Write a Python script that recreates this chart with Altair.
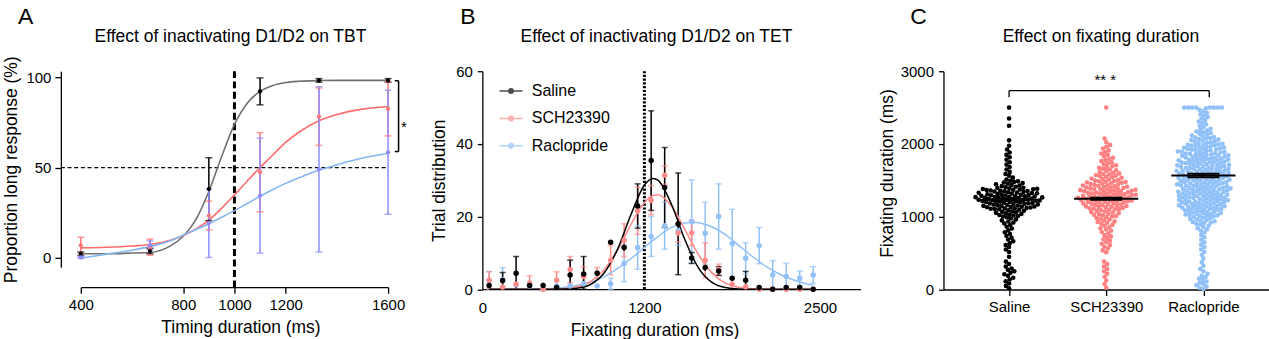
import altair as alt
import pandas as pd

FONT = "Liberation Sans"
GROUPS = ["Saline", "SCH23390", "Raclopride"]

# ---------------- Panel A data ----------------
a_x = [400, 670, 900, 1100, 1330, 1600]
a_mean = {
    "Saline": [2.0, 3.5, 38.0, 92.4, 98.5, 98.5],
    "SCH23390": [6.7, 5.7, 23.3, 47.4, 78.3, 82.6],
    "Raclopride": [0.0, 6.7, 19.0, 34.4, 49.0, 58.5],
}
a_err = {
    "Saline": [1.0, 1.5, 17.5, 7.5, 1.0, 1.0],
    "SCH23390": [4.5, 4.5, 8.0, 22.0, 16.0, 15.0],
    "Raclopride": [0.6, 2.5, 19.0, 32.0, 46.0, 34.5],
}
a_curve_x = [400, 500, 600, 670, 750, 800, 850, 900, 950, 1000, 1050, 1100,
             1150, 1200, 1250, 1330, 1400, 1500, 1600]
a_curve = {
    "Saline": [2.0, 2.0, 2.4, 2.7, 6.4, 11.8, 21.2, 36.7, 56.1, 74.0, 85.8, 92.4,
               95.7, 97.3, 98.0, 98.4, 98.5, 98.5, 98.5],
    "SCH23390": [5.3, 5.6, 6.3, 7.2, 9.5, 12.2, 15.8, 20.8, 27.3, 34.8, 42.5, 50.0,
                 57.0, 64.0, 69.5, 76.0, 79.5, 82.5, 84.0],
    "Raclopride": [-0.5, 1.8, 4.0, 6.0, 9.2, 12.4, 15.5, 18.7, 22.3, 26.0, 30.0, 34.0,
                   37.8, 41.2, 44.2, 48.5, 51.5, 55.3, 58.0],
}
a_ticks = [400, 800, 1000, 1200, 1600]

# ---------------- Panel B data ----------------
b_x = [50, 150, 250, 350, 450, 550, 650, 750, 850, 950, 1050, 1150, 1250,
       1350, 1450, 1550, 1650, 1750, 1850, 1950, 2050, 2150, 2250, 2350, 2450]
b_mean = {
    "Saline": [1.0, 2.4, 4.4, 1.0, 1.0, 0.5, 3.9, 4.2, 4.4, 12.9, 11.5, 22.9, 35.4,
               28.0, 18.0, 8.6, 6.0, 5.0, 3.0, 2.5, 0.5, 0.0, 0.5, 0.5, 0.0],
    "SCH23390": [2.5, 0.6, 1.4, 1.7, 0.0, 2.5, 5.4, 3.5, 4.5, 8.0, 13.5, 21.6, 24.5,
                 31.4, 15.5, 15.5, 8.0, 5.4, 1.4, 0.7, 0.0, 0.0, 0.0, 0.0, 0.0],
    "Raclopride": [2.3, 2.7, 1.2, 0.9, 0.0, 0.9, 0.9, 1.5, 0.9, 1.5, 7.1, 11.5, 14.5,
                   17.5, 16.1, 18.6, 15.4, 20.0, 12.5, 8.5, 12.0, 3.9, 3.5, 3.0, 3.9],
}
b_err = {
    "Saline": [0.8, 2.2, 4.6, 0.5, 0.8, 0.3, 4.1, 4.8, 0.6, 0.5, 1.0, 6.1, 13.7,
               11.0, 14.0, 1.5, 1.0, 1.2, 0.4, 2.4, 0.3, 0.0, 0.3, 0.3, 0.0],
    "SCH23390": [2.3, 0.5, 1.0, 2.0, 0.3, 2.3, 3.6, 2.7, 1.5, 4.0, 4.5, 6.5, 4.0,
                 2.5, 2.5, 3.5, 4.8, 1.5, 1.0, 0.7, 0.0, 0.0, 0.0, 0.0, 0.0],
    "Raclopride": [2.6, 3.2, 0.6, 0.5, 0.3, 0.5, 0.5, 0.8, 0.5, 1.5, 5.0, 6.0, 5.5,
                   6.5, 4.0, 11.5, 8.5, 9.0, 9.5, 4.3, 5.0, 4.0, 3.6, 2.0, 2.3],
}
b_curve_x = [50, 200, 400, 500, 600, 700, 800, 900, 1000, 1100, 1200, 1265, 1300,
             1400, 1500, 1560, 1600, 1700, 1800, 1900, 2000, 2100, 2200, 2300, 2400, 2450]
b_curve = {
    "Saline": [0.0, 0.0, 0.0, 0.0, 0.05, 0.29, 1.3, 4.4, 10.9, 20.5, 28.7, 30.5, 30.0,
               23.4, 13.6, 8.6, 5.9, 1.9, 0.47, 0.08, 0.01, 0.0, 0.0, 0.0, 0.0, 0.0],
    "SCH23390": [0.0, 0.0, 0.0, 0.04, 0.18, 0.69, 2.1, 5.3, 10.8, 17.8, 23.9, 25.8, 26.0,
                 22.9, 16.4, 12.2, 9.5, 4.5, 1.7, 0.54, 0.13, 0.03, 0.0, 0.0, 0.0, 0.0],
    "Raclopride": [0.0, 0.0, 0.05, 0.2, 0.45, 1.0, 2.0, 3.4, 5.7, 8.4, 11.5, 13.5, 14.5,
                   17.0, 18.2, 18.4, 18.3, 17.2, 15.0, 12.0, 9.0, 6.3, 4.2, 2.6, 1.5, 1.1],
}
b_ticks_x = [0, 1200, 2500]
b_ticks_y = [0, 20, 40, 60]

# ---------------- Panel C data ----------------
c_bin_lo = [0, 100, 200, 300, 400, 500, 600, 700, 800, 900, 1000, 1100, 1200,
            1300, 1400, 1500, 1600, 1700, 1800, 1900, 2000, 2100, 2200, 2300, 2400]
c_counts = {
    "Saline": [3, 4, 5, 3, 1, 3, 4, 4, 4, 7, 14, 25, 31, 25, 12, 4, 3, 3, 3, 2, 1, 0, 1, 1, 0],
    "SCH23390": [2, 2, 3, 3, 0, 4, 5, 5, 6, 9, 13, 20, 26, 25, 19, 13, 9, 7, 5, 4, 2, 0, 0, 0, 0],
    "Raclopride": [6, 5, 3, 2, 2, 3, 3, 3, 6, 12, 18, 22, 24, 24, 24, 24, 24, 24, 22, 20, 14, 9, 5, 5, 5],
}
c_cap_value = 2500
c_cap_counts = {"Saline": 1, "SCH23390": 1, "Raclopride": 8}
c_mean = [1235, 1246, 1568]
c_sem = [14, 14, 24]
c_ticks_y = [0, 1000, 2000, 3000]

# ---------------- layout constants ----------------
A_W, A_H = 308, 196.5
B_W, B_H = 379, 218.5
C_W, C_H = 326.3, 218.8
C_PAD = 0.675
BLACK = "#000000"

A_COL = ["#000000", "#ff7474", "#8c8cff"]
A_CURVE = ["#707070", "#ff6b6b", "#86b6f2"]
B_COL = ["#000000", "#ff8c8c", "#92c1f7"]
C_COL = ["#000000", "#ff8080", "#90c0f8"]

SYM = "M-1,0L1,0M0.2,0A0.2,0.2,0,1,1,-0.2,0A0.2,0.2,0,1,1,0.2,0"


def label_text(letter, title, lx, tx):
    df = pd.DataFrame({"t": [letter], "h": [title]})
    letter_mark = alt.Chart(df).mark_text(
        align="left", baseline="alphabetic", fontSize=23, font=FONT, color=BLACK
    ).encode(x=alt.value(lx), y=alt.value(-47.2), text="t:N")
    title_mark = alt.Chart(df).mark_text(
        align="center", baseline="alphabetic", fontSize=17.5, font=FONT, color=BLACK
    ).encode(x=alt.value(tx), y=alt.value(-29), text="h:N")
    return letter_mark + title_mark


def legend(lx, ly, loff, rpad):
    return alt.Legend(orient="none", legendX=lx, legendY=ly, title=None,
                      symbolType=SYM, symbolSize=529, symbolStrokeWidth=1.5,
                      labelFontSize=16, labelFont=FONT, labelColor=BLACK,
                      labelOffset=loff, rowPadding=rpad, padding=0)


# ================= Panel A =================
pts, caps, curves = [], [], []
for g in GROUPS:
    for x, m, e in zip(a_x, a_mean[g], a_err[g]):
        pts.append({"gA": g, "x": x, "y": m, "lo": m - e, "hi": m + e})
        caps.append({"gA": g, "x": x, "y": m - e})
        caps.append({"gA": g, "x": x, "y": m + e})
    for x, v in zip(a_curve_x, a_curve[g]):
        curves.append({"gA": g, "x": x, "y": v})
dfa, dfa_caps, dfa_curve = pd.DataFrame(pts), pd.DataFrame(caps), pd.DataFrame(curves)

axs = alt.Scale(domain=[400, 1600], nice=False, zero=False)
ays = alt.Scale(domain=[-5.5, 103.6], nice=False, zero=False)
acol = alt.Scale(domain=GROUPS, range=A_COL)
acur = alt.Scale(domain=GROUPS, range=A_CURVE)
ax_x = alt.Axis(values=a_ticks, format="d", title="Timing duration (ms)", offset=20, titleX=160,
                labelFlush=False, labelOverlap=False, tickSize=6, labelPadding=4,
                titlePadding=6, grid=False)
ax_y = alt.Axis(values=[0, 50, 100], format="d", title="Proportion long response (%)", offset=20,
                tickSize=6, labelPadding=4, titlePadding=5, grid=False)
a_legend = legend(-1.3, 0, 10, 7)

a_hline = alt.Chart(pd.DataFrame({"x": [322], "x2": [1600], "y": [50]})).mark_rule(
    color=BLACK, strokeWidth=1.2, strokeDash=[4, 2.7]
).encode(x=alt.X("x:Q", scale=axs, axis=ax_x), x2="x2:Q", y=alt.Y("y:Q", scale=ays, axis=ax_y))
a_vline = alt.Chart(pd.DataFrame({"x": [1000], "y": [-16.7], "y2": [103.6]})).mark_rule(
    color=BLACK, strokeWidth=3, strokeDash=[7, 3.5]
).encode(x="x:Q", y="y:Q", y2="y2:Q")
a_line = alt.Chart(dfa_curve).mark_line(strokeWidth=1.6, interpolate="monotone").encode(
    x="x:Q", y="y:Q", stroke=alt.Stroke("gA:N", scale=acur, legend=None)
)
a_bars = alt.Chart(dfa).mark_rule(strokeWidth=1.5).encode(
    x="x:Q", y="lo:Q", y2="hi:Q", color=alt.Color("gA:N", scale=acol, legend=a_legend)
)
a_caps = alt.Chart(dfa_caps).mark_tick(orient="horizontal", size=7, thickness=1.5).encode(
    x="x:Q", y="y:Q", color=alt.Color("gA:N", scale=acol, legend=a_legend)
)
a_pts = alt.Chart(dfa).mark_circle(size=18, opacity=1).encode(
    x="x:Q", y="y:Q", color=alt.Color("gA:N", scale=acol, legend=a_legend)
)
a_br = pd.DataFrame({"x": [1641, 1626, 1626], "x2": [1641, 1641, 1641],
                     "y": [58.9, 98.3, 58.9], "y2": [98.3, 98.3, 58.9]})
a_brk = alt.Chart(a_br).mark_rule(color=BLACK, strokeWidth=1.5).encode(
    x="x:Q", x2="x2:Q", y="y:Q", y2="y2:Q")
a_star = alt.Chart(pd.DataFrame({"x": [1662], "y": [70], "t": ["*"]})).mark_text(
    fontSize=15, font=FONT, color=BLACK, baseline="alphabetic").encode(x="x:Q", y="y:Q", text="t:N")

panelA = alt.layer(
    a_hline, a_vline, a_line, a_bars, a_caps, a_pts, a_brk, a_star,
    label_text("A", "Effect of inactivating D1/D2 on TBT", -63, 150)
).properties(width=A_W, height=A_H)

# ================= Panel B =================
pts, caps, curves = [], [], []
for g in reversed(GROUPS):
    for x, m, e in zip(b_x, b_mean[g], b_err[g]):
        pts.append({"gB": g, "x": x, "y": m, "lo": max(m - e, 0), "hi": m + e})
        if e >= 1.2:
            caps.append({"gB": g, "x": x, "y": max(m - e, 0)})
            caps.append({"gB": g, "x": x, "y": m + e})
    for x, v in zip(b_curve_x, b_curve[g]):
        curves.append({"gB": g, "x": x, "y": v})
dfb, dfb_caps, dfb_curve = pd.DataFrame(pts), pd.DataFrame(caps), pd.DataFrame(curves)

bxs = alt.Scale(domain=[0, 2800], nice=False, zero=False)
bys = alt.Scale(domain=[0, 60], nice=False)
bcol = alt.Scale(domain=GROUPS, range=B_COL)
bx_x = alt.Axis(values=b_ticks_x, format="d", title="Fixating duration (ms)", titleX=172.5,
                ticks=False, tickSize=0, labelPadding=11, labelFlush=False, labelOverlap=False,
                titlePadding=6, grid=False)
bx_y = alt.Axis(values=b_ticks_y, format="d", title="Trial distribution", tickSize=5,
                labelPadding=5, titlePadding=7, grid=False)
b_legend = legend(16.2, 7.3, 8.3, 6.5)

b_vline = alt.Chart(pd.DataFrame({"x": [1200], "y": [0], "y2": [60]})).mark_rule(
    color=BLACK, strokeWidth=3, strokeDash=[2.2, 1.6]
).encode(x=alt.X("x:Q", scale=bxs, axis=bx_x), y=alt.Y("y:Q", scale=bys, axis=bx_y), y2="y2:Q")
b_line = alt.Chart(dfb_curve).mark_line(strokeWidth=1.5, interpolate="monotone").encode(
    x="x:Q", y="y:Q", color=alt.Color("gB:N", scale=bcol, legend=b_legend)
)
b_bars = alt.Chart(dfb).mark_rule(strokeWidth=1.5).encode(
    x="x:Q", y="lo:Q", y2="hi:Q", color=alt.Color("gB:N", scale=bcol, legend=b_legend)
)
b_caps = alt.Chart(dfb_caps).mark_tick(orient="horizontal", size=6, thickness=1.5).encode(
    x="x:Q", y="y:Q", color=alt.Color("gB:N", scale=bcol, legend=b_legend)
)
b_pts = alt.Chart(dfb).mark_circle(size=30, opacity=1).encode(
    x="x:Q", y="y:Q", color=alt.Color("gB:N", scale=bcol, legend=b_legend)
)
panelB = alt.layer(
    b_vline, b_bars, b_caps, b_line, b_pts,
    label_text("B", "Effect of inactivating D1/D2 on TET", -22.2, 174.5)
).properties(width=B_W, height=B_H)

# ================= Panel C =================
px_per_ms = C_H / 3000.0
px_per_cat = C_W / (2 + 2 * C_PAD)
D = 4.0


def swarm(values):
    placed, out = [], []
    for v in values:
        y = v * px_per_ms
        near = [(py, pxx) for py, pxx in placed if abs(py - y) < D]
        cands = [0.0]
        for py, pxx in near:
            dx = (D * D - (py - y) ** 2) ** 0.5
            cands += [pxx + dx, pxx - dx]
        cands.sort(key=lambda c: (abs(c), c))
        chosen = cands[-1]
        for c in cands:
            if all((c - pxx) ** 2 + (y - py) ** 2 >= D * D - 1e-6 for py, pxx in near):
                chosen = c
                break
        placed.append((y, chosen))
        out.append(chosen)
    return out


crow = []
for gi, g in enumerate(GROUPS):
    vals = []
    for lo, n in zip(c_bin_lo, c_counts[g]):
        vals += [lo + (k + 0.5) * 100.0 / n for k in range(n)]
    vals += [c_cap_value] * c_cap_counts[g]
    vals.sort()
    offs = swarm(vals)
    for v, o in zip(vals, offs):
        crow.append({"gC": g, "xp": gi + o / px_per_cat, "v": v})
dfc = pd.DataFrame(crow)

cxs = alt.Scale(domain=[-C_PAD, 2 + C_PAD], nice=False, zero=False)
cys = alt.Scale(domain=[0, 3000], nice=False)
ccol = alt.Scale(domain=GROUPS, range=C_COL)
lab_expr = "datum.value == 0 ? '%s' : (datum.value == 1 ? '%s' : '%s')" % tuple(GROUPS)
cx_x = alt.Axis(values=[0, 1, 2], labelExpr=lab_expr, title=None, tickSize=6, labelPadding=4,
                labelFlush=False, labelOverlap=False, grid=False)
cx_y = alt.Axis(values=c_ticks_y, format="d", title="Fixating duration (ms)", tickSize=5,
                labelPadding=5, titlePadding=4, titleY=102, grid=False)

c_pts = alt.Chart(dfc).mark_circle(size=21, opacity=1).encode(
    x=alt.X("xp:Q", scale=cxs, axis=cx_x), y=alt.Y("v:Q", scale=cys, axis=cx_y),
    color=alt.Color("gC:N", scale=ccol, legend=None)
)
mrow, srow, caprow = [], [], []
for gi, g in enumerate(GROUPS):
    mrow.append({"x": gi - 0.33, "x2": gi + 0.33, "y": c_mean[gi]})
    srow.append({"x": gi, "lo": c_mean[gi] - c_sem[gi], "hi": c_mean[gi] + c_sem[gi]})
    for yv in (c_mean[gi] - c_sem[gi], c_mean[gi] + c_sem[gi]):
        caprow.append({"x": gi - 0.165, "x2": gi + 0.165, "y": yv})
c_mean_l = alt.Chart(pd.DataFrame(mrow)).mark_rule(color=BLACK, strokeWidth=2).encode(
    x="x:Q", x2="x2:Q", y="y:Q")
c_sem_l = alt.Chart(pd.DataFrame(srow)).mark_rule(color=BLACK, strokeWidth=2).encode(
    x="x:Q", y="lo:Q", y2="hi:Q")
c_cap_l = alt.Chart(pd.DataFrame(caprow)).mark_rule(color=BLACK, strokeWidth=2).encode(
    x="x:Q", x2="x2:Q", y="y:Q")
c_br = pd.DataFrame({"x": [0, 0, 2.06], "x2": [2.06, 0, 2.06],
                     "y": [2733, 2641, 2641], "y2": [2733, 2733, 2733]})
c_brk = alt.Chart(c_br).mark_rule(color=BLACK, strokeWidth=1.3).encode(
    x="x:Q", x2="x2:Q", y="y:Q", y2="y2:Q")
c_star = alt.Chart(pd.DataFrame({"x": [0.99], "y": [2815], "t": ["** *"]})).mark_text(
    fontSize=15, font=FONT, color=BLACK, baseline="alphabetic").encode(x="x:Q", y="y:Q", text="t:N")

panelC = alt.layer(
    c_pts, c_mean_l, c_sem_l, c_cap_l, c_brk, c_star,
    label_text("C", "Effect on fixating duration", -33.4, 157.8)
).properties(width=C_W, height=C_H)

inner = alt.hconcat(panelB, panelC, spacing=83.2, bounds="flush").resolve_scale(
    x="independent", y="independent", color="independent", stroke="independent"
).resolve_legend(color="independent")

chart = alt.hconcat(panelA, inner, spacing=94.5, bounds="flush").resolve_scale(
    x="independent", y="independent", color="independent", stroke="independent"
).resolve_legend(color="independent").configure(
    font=FONT, padding={"left": 2, "top": 5, "right": 0, "bottom": 0}
).configure_view(stroke=None).configure_axis(
    domainColor=BLACK, domainWidth=1.3, tickColor=BLACK, tickWidth=1.3,
    labelFont=FONT, labelFontSize=15, labelColor=BLACK,
    titleFont=FONT, titleFontSize=17.5, titleFontWeight="normal", titleColor=BLACK,
).configure_legend(labelFont=FONT)

chart.save("out.html", embed_options={"renderer": "svg", "actions": False})
